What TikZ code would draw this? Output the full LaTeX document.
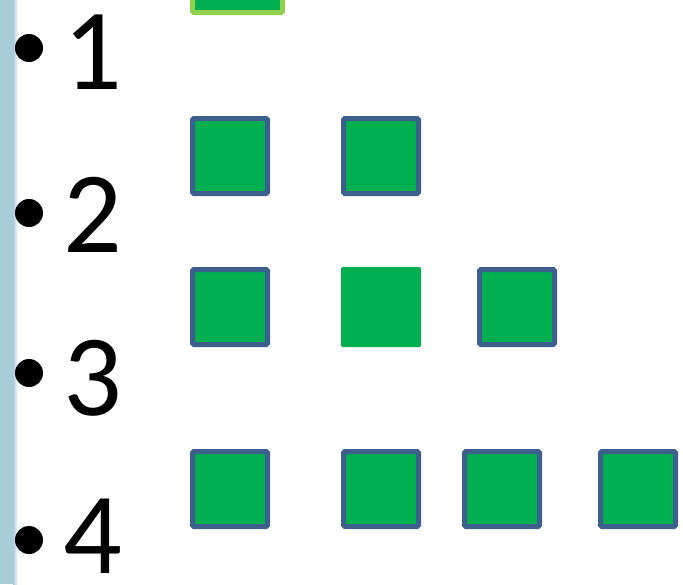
\documentclass[tikz,border=0pt]{standalone}
\usepackage{fontspec}
\setmainfont{Carlito}
\usepackage{xcolor}
\definecolor{boxgreen}{HTML}{00B050}
\definecolor{boxedge}{HTML}{3D5F8B}
\definecolor{lightedge}{HTML}{92D050}
\definecolor{stripblue}{HTML}{A9CDD8}

\begin{document}
\begin{tikzpicture}[
    x=1pt, y=1pt,
    every node/.style={inner sep=0pt, outer sep=0pt},
    sq/.style={draw=boxedge, fill=boxgreen, line width=5pt, rounded corners=1.5pt, minimum size=75pt},
    plainsq/.style={fill=boxgreen, rounded corners=1.5pt, minimum size=80pt},
    bulletdot/.style={circle, fill=black, minimum size=28pt},
    num/.style={anchor=base, font=\fontsize{116}{116}\selectfont},
  ]
    \def\W{683}                            % 画面宽度（pt）
    \def\H{584}                            % 画面高度（pt）
    \useasboundingbox (0, 0) rectangle (\W, -\H);
    \clip (0, 0) rectangle (\W, -\H);

    % 左侧浅蓝色边条
    \fill[stripblue] (0, 0) rectangle (13, -\H);
    \shade[left color=stripblue, right color=white] (13, 0) rectangle (18, -\H);

    % 项目符号与数字
    \node[bulletdot] (b1) at (29, -48)  {};
    \node[bulletdot] (b2) at (29, -213) {};
    \node[bulletdot] (b3) at (29, -373) {};
    \node[bulletdot] (b4) at (29, -540) {};
    \node[num] (n1) at (93, -89)  {1};
    \node[num] (n2) at (93, -252) {2};
    \node[num] (n3) at (93, -415) {3};
    \node[num] (n4) at (93, -573) {4};

    % 第一行（被上边缘截断）
    \node[sq, draw=lightedge, minimum width=90pt, minimum height=90pt] (s11) at (237.5, 32.5) {};

    % 第二行
    \node[sq] (s21) at (230, -156) {};
    \node[sq] (s22) at (381, -156) {};

    % 第三行
    \node[sq]      (s31) at (230, -307) {};
    \node[plainsq] (s32) at (381, -307) {};
    \node[sq]      (s33) at (517, -307) {};

    % 第四行
    \node[sq] (s41) at (230, -489) {};
    \node[sq] (s42) at (381, -489) {};
    \node[sq] (s43) at (502, -489) {};
    \node[sq] (s44) at (638, -489) {};
\end{tikzpicture}
\end{document}
